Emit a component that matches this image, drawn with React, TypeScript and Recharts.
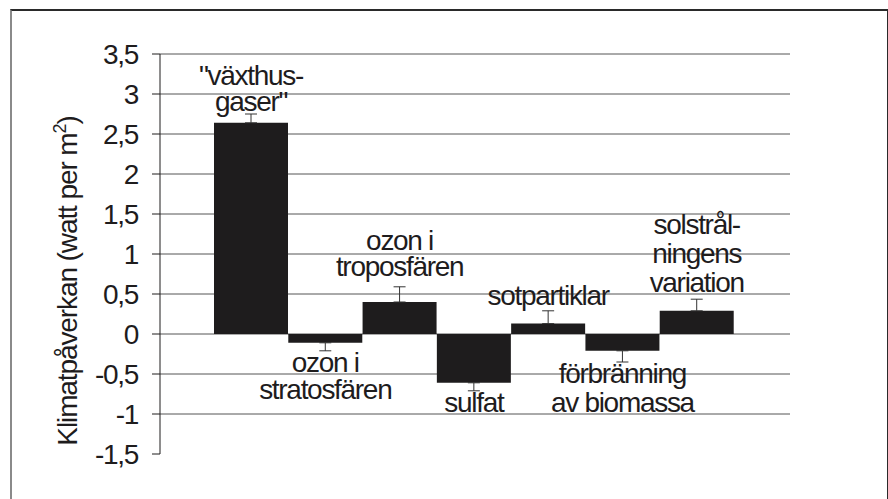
import React from 'react';
import { BarChart, Bar, XAxis, YAxis, CartesianGrid, ErrorBar, LabelList } from 'recharts';

const categories = [
  'växthusgaser',
  'ozon i stratosfären',
  'ozon i troposfären',
  'sulfat',
  'sotpartiklar',
  'förbränning av biomassa',
  'solstrålningens variation',
];
const labelLines = [
  ['"växthus-', 'gaser"'],
  ['ozon i', 'stratosfären'],
  ['ozon i', 'troposfären'],
  ['sulfat'],
  ['sotpartiklar'],
  ['förbränning', 'av biomassa'],
  ['solstrål-', 'ningens', 'variation'],
];
const forcing = [2.64, -0.11, 0.4, -0.61, 0.13, -0.21, 0.29];
const uncertainty = [0.11, 0.1, 0.19, 0.1, 0.16, 0.14, 0.145];
const yTicks = [3.5, 3, 2.5, 2, 1.5, 1, 0.5, 0, -0.5, -1, -1.5];
const gridValues = [3.5, 3, 2.5, 2, 1.5, 1, 0.5, 0, -0.5, -1];

// label placement: first baseline offset from the bar end, and line spacing
const labelLayout = [
  { dy: -38, lh: 26 },
  { dy: 29, lh: 27 },
  { dy: -52, lh: 26 },
  { dy: 29, lh: 28 },
  { dy: -19, lh: 28 },
  { dy: 32, lh: 29 },
  { dy: -77, lh: 29 },
];

const FONT = '"Liberation Sans", Arial, Helvetica, sans-serif';
const INK = '#1e1c1d';
const FS = 28;
const LS = -1.3;

const data = categories.map((name, i) => ({
  name,
  value: forcing[i],
  err: forcing[i] >= 0 ? [0, uncertainty[i]] : [uncertainty[i], 0],
}));

const renderLabel = (props: any) => {
  const { index } = props;
  const vb = props.viewBox ?? props;
  const x = Number(vb.x);
  const y = Number(vb.y);
  const w = Number(vb.width);
  const h = Number(vb.height);
  const v = forcing[index];
  const end = v >= 0 ? Math.min(y, y + h) : Math.max(y, y + h);
  const { dy, lh } = labelLayout[index];
  const cx = x + w / 2;
  return (
    <text
      key={`lbl-${index}`}
      x={cx}
      y={end + dy}
      textAnchor="middle"
      fontFamily={FONT}
      fontSize={FS}
      letterSpacing={LS}
      fill={INK}
    >
      {labelLines[index].map((line, j) => (
        <tspan key={j} x={cx} dy={j === 0 ? 0 : lh}>
          {line}
        </tspan>
      ))}
    </text>
  );
};

const YTitle = (props: any) => {
  const vb = props.viewBox;
  const cx = vb.x + 77;
  const cy = vb.y + vb.height / 2 + 27;
  return (
    <text
      x={cx}
      y={cy}
      transform={`rotate(-90 ${cx} ${cy})`}
      textAnchor="middle"
      fontFamily={FONT}
      fontSize={FS}
      letterSpacing={-1.1}
      fill={INK}
    >
      Klimatpåverkan (watt per m
      <tspan fontSize={18} dy={-11}>2</tspan>
      <tspan dy={11}>)</tspan>
    </text>
  );
};

export default function App() {
  return (
    <div style={{ position: 'absolute', left: 0, top: 0, width: 888, height: 499, overflow: 'hidden', background: '#fff' }}>
      <div
        style={{
          position: 'absolute',
          left: 10,
          top: 9,
          width: 875,
          height: 520,
          borderTop: '2px solid #2a2a2a',
          borderRight: '2px solid #2a2a2a',
          borderLeft: '2px solid #8a8a8a',
        }}
      />
      <div style={{ position: 'absolute', left: 0, top: 0 }}>
        <BarChart
          width={888}
          height={499}
          data={data}
          margin={{ top: 54, right: 98, bottom: 45, left: 0 }}
          barCategoryGap={0}
        >
          <CartesianGrid horizontal vertical={false} horizontalValues={gridValues} stroke="#555" />
          <XAxis dataKey="name" hide padding={{ left: 54, right: 56 }} />
          <YAxis
            width={160}
            domain={[-1.5, 3.5]}
            ticks={yTicks}
            interval={0}
            allowDataOverflow
            tickFormatter={(v: number) => String(v).replace('.', ',')}
            tick={{ fontFamily: FONT, fontSize: FS, letterSpacing: LS, fill: INK }}
            tickSize={8}
            tickMargin={14}
            axisLine={{ stroke: INK }}
            tickLine={{ stroke: INK }}
            label={<YTitle />}
          />
          <YAxis
            yAxisId="r"
            orientation="right"
            width={0}
            domain={[-1.5, 3.5]}
            tick={false}
            tickLine={false}
            axisLine={{ stroke: INK }}
          />
          <Bar dataKey="value" fill={INK} isAnimationActive={false}>
            <ErrorBar dataKey="err" width={6} stroke="#333" strokeWidth={1} direction="y" />
            <LabelList dataKey="value" content={renderLabel} />
          </Bar>
        </BarChart>
      </div>
    </div>
  );
}
